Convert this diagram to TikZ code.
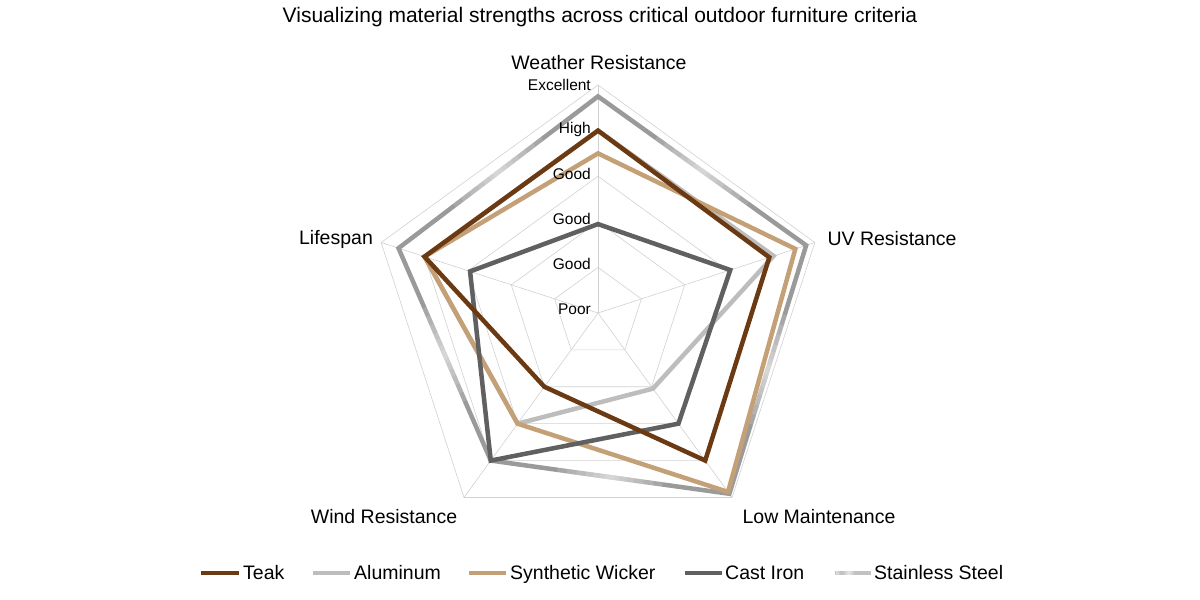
\documentclass[tikz,border=0pt]{standalone}
\usepackage{fontspec}
\setmainfont{Liberation Sans}
\usetikzlibrary{calc}
\begin{document}
\begin{tikzpicture}[x=1pt,y=1pt,
  grid/.style={draw=black!18,line width=0.6pt},
  ser/.style={line width=4.5pt,line join=miter},
  lab/.style={font=\fontsize{19.5}{22}\selectfont},
  tick/.style={font=\fontsize{15.5}{17}\selectfont,anchor=east,inner sep=1pt},
  leg/.style={font=\fontsize{19.5}{22}\selectfont,anchor=base west,inner sep=1pt}]
\definecolor{teak}{HTML}{6B3A12}
\definecolor{alu}{HTML}{BDBDBD}
\definecolor{wick}{HTML}{C4A077}
\definecolor{iron}{HTML}{606060}
\definecolor{steel}{HTML}{9A9A9A}
\useasboundingbox (0,0) rectangle (1200,600);
\coordinate (O) at (598,287);
\def\R{22.8}
% grid
\foreach \k in {1,...,5}{
  \draw[grid] ($(O)+(90:\k*45.6)$) -- ($(O)+(18:\k*45.6)$) -- ($(O)+(-54:\k*45.6)$) -- ($(O)+(-126:\k*45.6)$) -- ($(O)+(162:\k*45.6)$) -- cycle;}
\foreach \a in {90,18,-54,-126,162}{\draw[grid] (O) -- ($(O)+(\a:228)$);}
% series: values out of 10
\newcommand\poly[6]{\draw[#1] ($(O)+(90:#2*\R)$) -- ($(O)+(18:#3*\R)$) -- ($(O)+(-54:#4*\R)$) -- ($(O)+(-126:#5*\R)$) -- ($(O)+(162:#6*\R)$) -- cycle;}
\poly{ser,alu}{8.0}{8.1}{4.1}{6.0}{8.0}
\poly{ser,steel}{9.5}{9.6}{9.8}{8.0}{9.2}
% steel highlights (soft fade toward the middle of each edge)
\foreach \a/\b/\va/\vb in {90/18/9.5/9.6,18/-54/9.6/9.8,-54/-126/9.8/8.0,-126/162/8.0/9.2,162/90/9.2/9.5}{
  \foreach \h in {0.22,0.18,0.14,0.10,0.07,0.04,0.02}{
    \draw[line width=4.5pt,white,opacity=0.13] ($($(O)+(\a:\va*\R)$)!0.5-\h!($(O)+(\b:\vb*\R)$)$) -- ($($(O)+(\a:\va*\R)$)!0.5+\h!($(O)+(\b:\vb*\R)$)$);}}
\poly{ser,wick}{7.0}{9.1}{9.7}{6.0}{8.0}
\poly{ser,iron}{3.9}{6.1}{6.0}{8.0}{5.9}
\poly{ser,teak}{8.0}{7.9}{8.0}{4.0}{8.0}
% ticks
\foreach \t/\y in {Excellent/515,High/471,Good/426,Good/381,Good/336,Poor/291}{\node[tick] at (592,\y) {\t};}
% axis labels
\node[lab] (w) at (599,537) {Weather Resistance};
\node[lab] (u) at (892,361) {UV Resistance};
\node[lab] (l) at (819,83) {Low Maintenance};
\node[lab] (d) at (384,83) {Wind Resistance};
\node[lab] (s) at (336,361) {Lifespan};
\node[font=\fontsize{21}{24}\selectfont] (title) at (600,583) {Visualizing material strengths across critical outdoor furniture criteria};
% legend
\draw[line width=4.5pt,teak] (201,27) -- (239,27); \node[leg] at (242,20) {Teak};
\draw[line width=4.5pt,alu] (313,27) -- (350,27); \node[leg] at (353,20) {Aluminum};
\draw[line width=4.5pt,wick] (469,27) -- (506,27); \node[leg] at (509,20) {Synthetic Wicker};
\draw[line width=4.5pt,iron] (685,27) -- (722,27); \node[leg] at (724,20) {Cast Iron};
\draw[line width=4.5pt,steel!60] (835,27) -- (871,27);
\foreach \h in {5,4,3,2,1}{\draw[line width=4.5pt,white,opacity=0.15] (849-\h,27) -- (849+\h,27);}
\foreach \h in {4,3,2,1}{\draw[line width=4.5pt,white,opacity=0.15] (836,27) -- (836+\h,27);}
\node[leg] at (873,20) {Stainless Steel};
\end{tikzpicture}
\end{document}
